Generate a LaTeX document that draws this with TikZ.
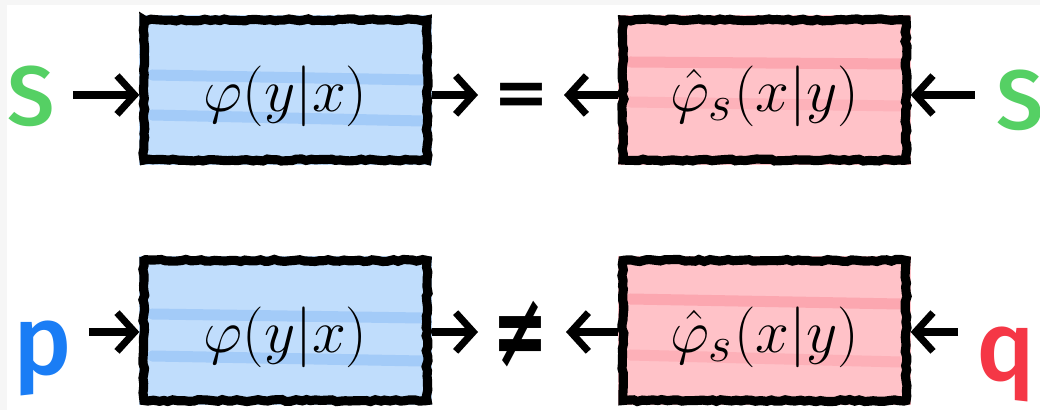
\documentclass[tikz,border=0pt]{standalone}
\usepackage{fontspec}
\IfFontExistsTF{Fira Sans Medium}
  {\newfontfamily\labfont{Fira Sans Medium}}
  {\newfontfamily\labfont{Fira Sans}}
\newfontfamily\symfont{DejaVu Sans}
\usetikzlibrary{arrows.meta,decorations.pathmorphing,calc}
\pgfdeclarelayer{background}
\pgfsetlayers{background,main}
\definecolor{sgreen}{RGB}{85,208,100}
\definecolor{pblue}{RGB}{26,125,245}
\definecolor{qred}{RGB}{245,55,70}
\definecolor{bluefill}{RGB}{192,221,252}
\definecolor{bluestripe}{RGB}{145,192,246}
\definecolor{redfill}{RGB}{255,194,200}
\definecolor{redstripe}{RGB}{250,150,160}
\definecolor{margin}{RGB}{246,246,246}
\begin{document}
\begin{tikzpicture}[x=0.01cm,y=-0.01cm,
  sketch/.style={draw=black, line width=2.6pt, decorate,
    decoration={random steps, segment length=1.4pt, amplitude=0.3pt}},
  fbox/.style={minimum width=2.83cm, minimum height=1.40cm, inner sep=0pt, sketch,
    font=\fontsize{19}{21}\selectfont, text height=15pt, text depth=2.6pt},
  arr/.style={line width=2pt, -{Straight Barb[length=5pt,width=11pt,line width=2pt]}},
  lab/.style={font=\labfont\fontsize{24}{26}\selectfont, inner sep=0pt},
  plab/.style={font=\labfont\fontsize{28}{30}\selectfont, inner sep=0pt},
  rel/.style={font=\symfont\bfseries\fontsize{19}{22}\selectfont, inner sep=0pt},
  bstripe/.style={bluestripe, line width=11pt*0.2845, line cap=round, opacity=0.6},
  rstripe/.style={redstripe, line width=11pt*0.2845, line cap=round, opacity=0.6}
]
\useasboundingbox (0,0) rectangle (1040,410);

% row reference coordinates
\coordinate (row1) at (0,95);
\coordinate (row2) at (0,332);

% boxes
\node[fbox] (b1) at (285.5,90) {$\varphi(y|x)$};
\node[fbox] (r1) at (764.5,90) {$\hat{\varphi}_s(x|y)$};
\node[fbox] (b2) at (285.5,330.5) {$\varphi(y|x)$};
\node[fbox] (r2) at (764.5,330.5) {$\hat{\varphi}_s(x|y)$};

% labels
\node[lab, text=sgreen] (S1) at (31,96) {S};
\node[lab, text=sgreen] (S2) at (1020,100) {S};
\node[plab, text=pblue] (P) at (43,358) {p};
\node[plab, text=qred] (Q) at (1006,364) {q};

% relation signs
\node[rel] (eq) at (521,99) {=};
\node[rel] (neq) at (520,334) {\scalebox{1}[1.55]{≠}};

% free arrow ends
\coordinate (e1) at (478,95);
\coordinate (e2) at (564,95);
\coordinate (e3) at (478,332);
\coordinate (e4) at (566,332);

% arrows, top row
\draw[arr, shorten <=5pt] (S1.east |- row1) -- (b1.west |- row1);
\draw[arr] (b1.east |- row1) -- (e1);
\draw[arr] (r1.west |- row1) -- (e2);
\draw[arr, shorten <=6pt] (S2.west |- row1) -- (r1.east |- row1);
% arrows, bottom row
\draw[arr, shorten <=4.5pt] (P.east |- row2) -- (b2.west |- row2);
\draw[arr] (b2.east |- row2) -- (e3);
\draw[arr] (r2.west |- row2) -- (e4);
\draw[arr, shorten <=5pt] (Q.west |- row2) -- (r2.east |- row2);

% background, fills and stripes
\begin{pgfonlayer}{background}
  \fill[margin] (0,0) rectangle (1040,410);
  \fill[white] (7,5) rectangle (1040,410);
  \fill[bluefill] (b1.north west) rectangle (b1.south east);
  \draw[bstripe] (152,75) -- (422,80);
  \draw[bstripe] (152,115) -- (422,121);
  \fill[bluefill] (b2.north west) rectangle (b2.south east);
  \draw[bstripe] (152,314) -- (422,318);
  \draw[bstripe] (152,356) -- (422,361);
  \fill[redfill] (r1.north west) rectangle (r1.south east);
  \draw[rstripe] (630,62) -- (900,64);
  \draw[rstripe, opacity=0.35] (630,102) -- (900,106);
  \fill[redfill] (r2.north west) rectangle (r2.south east);
  \draw[rstripe] (630,299) -- (900,304);
  \draw[rstripe, opacity=0.4] (630,355) -- (900,362);
\end{pgfonlayer}
\end{tikzpicture}
\end{document}
